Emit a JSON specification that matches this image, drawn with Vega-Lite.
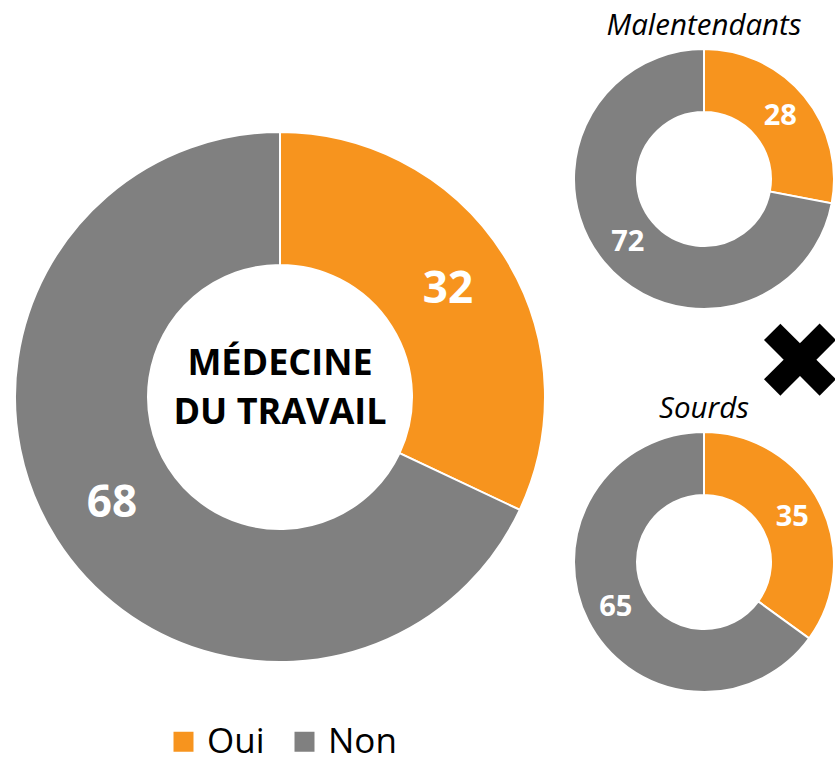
{
  "$schema": "https://vega.github.io/schema/vega-lite/v6.json",
  "background": "white",
  "padding": {"left": 0, "top": 10, "right": 0, "bottom": 0},
  "config": {"view": {"stroke": null}, "font": "Open Sans"},
  "datasets": {
    "shares": [
      {"groupe": "Médecine du travail", "reponse": "Oui", "pct": 32},
      {"groupe": "Médecine du travail", "reponse": "Non", "pct": 68},
      {"groupe": "Malentendants", "reponse": "Oui", "pct": 28},
      {"groupe": "Malentendants", "reponse": "Non", "pct": 72},
      {"groupe": "Sourds", "reponse": "Oui", "pct": 35},
      {"groupe": "Sourds", "reponse": "Non", "pct": 65}
    ]
  },
  "bounds": "flush",
  "spacing": 13,
  "hconcat": [
    {
      "width": 560,
      "height": 698,
      "layer": [
        {
          "data": {"name": "shares"},
          "transform": [{"filter": "datum.groupe === 'Médecine du travail'"}],
          "mark": {"type": "arc", "innerRadius": 132, "outerRadius": 265, "stroke": "white", "strokeWidth": 2},
          "encoding": {
            "theta": {"field": "pct", "type": "quantitative", "stack": true},
            "order": {"field": "reponse", "sort": "descending"},
            "color": {
              "field": "reponse", "type": "nominal",
              "scale": {"domain": ["Oui", "Non"], "range": ["#F7941E", "#808080"]},
              "legend": {
                "orient": "none", "legendX": 166, "legendY": 676, "direction": "horizontal",
                "title": null, "symbolType": "square", "symbolSize": 400, "symbolStrokeWidth": 0,
                "labelFontSize": 35, "labelFont": "Open Sans", "labelColor": "black",
                "labelOffset": 6, "columnPadding": 22, "padding": 0
              }
            }
          }
        },
        {
          "data": {"name": "shares"},
          "transform": [{"filter": "datum.groupe === 'Médecine du travail'"}],
          "mark": {"type": "text", "radius": 199, "font": "Open Sans", "fontWeight": "bold", "fontSize": 44, "color": "white"},
          "encoding": {
            "theta": {"field": "pct", "type": "quantitative", "stack": true},
            "order": {"field": "reponse", "sort": "descending"},
            "detail": {"field": "reponse", "type": "nominal"},
            "text": {"field": "pct", "type": "quantitative"}
          }
        },
        {
          "data": {"values": [{"titre": "MÉDECINE|DU TRAVAIL"}]},
          "mark": {"type": "text", "lineBreak": "|", "font": "Open Sans", "fontWeight": "bold", "fontSize": 36, "lineHeight": 49, "color": "black", "dy": -33},
          "encoding": {"text": {"field": "titre", "type": "nominal"}}
        }
      ]
    },
    {
      "bounds": "flush",
      "spacing": 121,
      "vconcat": [
        {
          "width": 262,
          "height": 262,
          "title": {"text": "Malentendants", "font": "Open Sans", "fontStyle": "italic", "fontWeight": "normal", "fontSize": 29.5, "offset": 4, "color": "black"},
          "layer": [
            {
              "data": {"name": "shares"},
              "transform": [{"filter": "datum.groupe === 'Malentendants'"}],
              "mark": {"type": "arc", "innerRadius": 67, "outerRadius": 130, "stroke": "white", "strokeWidth": 2},
              "encoding": {
                "theta": {"field": "pct", "type": "quantitative", "stack": true},
                "order": {"field": "reponse", "sort": "descending"},
                "color": {"field": "reponse", "type": "nominal", "scale": {"domain": ["Oui", "Non"], "range": ["#F7941E", "#808080"]}, "legend": null}
              }
            },
            {
              "data": {"name": "shares"},
              "transform": [{"filter": "datum.groupe === 'Malentendants'"}],
              "mark": {"type": "text", "radius": 99, "font": "Open Sans", "fontWeight": "bold", "fontSize": 29, "color": "white"},
              "encoding": {
                "theta": {"field": "pct", "type": "quantitative", "stack": true},
                "order": {"field": "reponse", "sort": "descending"},
                "detail": {"field": "reponse", "type": "nominal"},
                "text": {"field": "pct", "type": "quantitative"}
              }
            },
            {
              "data": {"values": [{"symbole": "✖"}]},
              "mark": {"type": "text", "font": "DejaVu Sans", "fontSize": 108, "color": "black", "dx": 96, "dy": 188},
              "encoding": {"text": {"field": "symbole", "type": "nominal"}}
            }
          ]
        },
        {
          "width": 262,
          "height": 262,
          "title": {"text": "Sourds", "font": "Open Sans", "fontStyle": "italic", "fontWeight": "normal", "fontSize": 29.5, "offset": 4, "color": "black"},
          "layer": [
            {
              "data": {"name": "shares"},
              "transform": [{"filter": "datum.groupe === 'Sourds'"}],
              "mark": {"type": "arc", "innerRadius": 67, "outerRadius": 130, "stroke": "white", "strokeWidth": 2},
              "encoding": {
                "theta": {"field": "pct", "type": "quantitative", "stack": true},
                "order": {"field": "reponse", "sort": "descending"},
                "color": {"field": "reponse", "type": "nominal", "scale": {"domain": ["Oui", "Non"], "range": ["#F7941E", "#808080"]}, "legend": null}
              }
            },
            {
              "data": {"name": "shares"},
              "transform": [{"filter": "datum.groupe === 'Sourds'"}],
              "mark": {"type": "text", "radius": 99, "font": "Open Sans", "fontWeight": "bold", "fontSize": 29, "color": "white"},
              "encoding": {
                "theta": {"field": "pct", "type": "quantitative", "stack": true},
                "order": {"field": "reponse", "sort": "descending"},
                "detail": {"field": "reponse", "type": "nominal"},
                "text": {"field": "pct", "type": "quantitative"}
              }
            }
          ]
        }
      ]
    }
  ]
}
